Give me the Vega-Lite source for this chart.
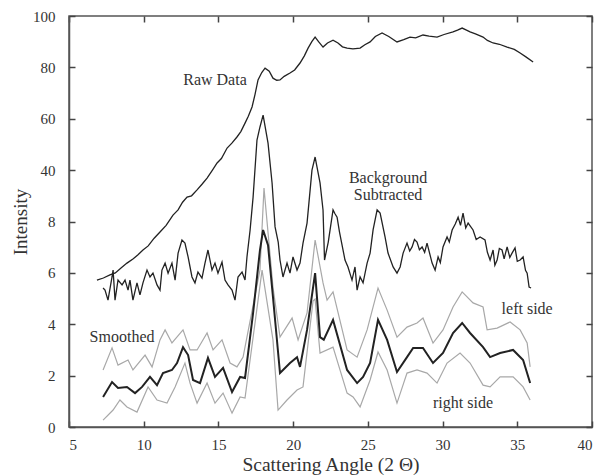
{
  "$schema": "https://vega.github.io/schema/vega-lite/v6.json",
  "width": 523,
  "height": 411,
  "autosize": "none",
  "padding": {"left": 69, "top": 16, "right": 11, "bottom": 49},
  "background": "white",
  "config": {
    "view": {"stroke": "#555", "strokeWidth": 1.5},
    "font": "Liberation Serif",
    "axis": {
      "domainColor": "#555", "domainWidth": 1.5, "tickColor": "#444", "tickWidth": 1.5,
      "labelFont": "Liberation Serif", "labelFontSize": 15, "labelColor": "#333",
      "titleFont": "Liberation Serif", "titleFontWeight": "normal", "titleColor": "#333",
      "grid": false
    }
  },
  "datasets": {
    "curves": [
      {"series": "raw", "x": 6.87, "y": 5.72}, {"series": "raw", "x": 7.3, "y": 5.8}, {"series": "raw", "x": 7.74, "y": 5.92}, {"series": "raw", "x": 8.1, "y": 6.0}, {"series": "raw", "x": 8.5, "y": 6.2}, {"series": "raw", "x": 8.88, "y": 6.38}, {"series": "raw", "x": 9.3, "y": 6.55}, {"series": "raw", "x": 9.6, "y": 6.7}, {"series": "raw", "x": 9.95, "y": 6.89}, {"series": "raw", "x": 10.3, "y": 7.05}, {"series": "raw", "x": 10.7, "y": 7.35}, {"series": "raw", "x": 11.09, "y": 7.59}, {"series": "raw", "x": 11.5, "y": 7.85}, {"series": "raw", "x": 11.96, "y": 8.25}, {"series": "raw", "x": 12.3, "y": 8.45}, {"series": "raw", "x": 12.6, "y": 8.75}, {"series": "raw", "x": 12.9, "y": 8.95}, {"series": "raw", "x": 13.2, "y": 9.0}, {"series": "raw", "x": 13.57, "y": 9.23}, {"series": "raw", "x": 13.9, "y": 9.45}, {"series": "raw", "x": 14.24, "y": 9.69}, {"series": "raw", "x": 14.6, "y": 10.0}, {"series": "raw", "x": 14.91, "y": 10.28}, {"series": "raw", "x": 15.2, "y": 10.45}, {"series": "raw", "x": 15.58, "y": 10.86}, {"series": "raw", "x": 15.9, "y": 11.05}, {"series": "raw", "x": 16.24, "y": 11.29}, {"series": "raw", "x": 16.5, "y": 11.5}, {"series": "raw", "x": 16.78, "y": 11.83}, {"series": "raw", "x": 17.0, "y": 12.1}, {"series": "raw", "x": 17.25, "y": 12.46}, {"series": "raw", "x": 17.45, "y": 12.95}, {"series": "raw", "x": 17.65, "y": 13.51}, {"series": "raw", "x": 17.9, "y": 13.8}, {"series": "raw", "x": 18.12, "y": 13.97}, {"series": "raw", "x": 18.4, "y": 13.85}, {"series": "raw", "x": 18.65, "y": 13.58}, {"series": "raw", "x": 18.9, "y": 13.5}, {"series": "raw", "x": 19.12, "y": 13.51}, {"series": "raw", "x": 19.4, "y": 13.65}, {"series": "raw", "x": 19.79, "y": 13.78}, {"series": "raw", "x": 20.1, "y": 13.9}, {"series": "raw", "x": 20.46, "y": 14.17}, {"series": "raw", "x": 20.75, "y": 14.45}, {"series": "raw", "x": 21.0, "y": 14.75}, {"series": "raw", "x": 21.25, "y": 15.0}, {"series": "raw", "x": 21.47, "y": 15.18}, {"series": "raw", "x": 21.7, "y": 15.0}, {"series": "raw", "x": 22.0, "y": 14.79}, {"series": "raw", "x": 22.3, "y": 14.95}, {"series": "raw", "x": 22.67, "y": 15.06}, {"series": "raw", "x": 23.0, "y": 14.95}, {"series": "raw", "x": 23.3, "y": 14.8}, {"series": "raw", "x": 23.61, "y": 14.75}, {"series": "raw", "x": 24.0, "y": 14.72}, {"series": "raw", "x": 24.48, "y": 14.75}, {"series": "raw", "x": 24.8, "y": 14.88}, {"series": "raw", "x": 25.15, "y": 14.99}, {"series": "raw", "x": 25.5, "y": 15.2}, {"series": "raw", "x": 25.95, "y": 15.34}, {"series": "raw", "x": 26.4, "y": 15.2}, {"series": "raw", "x": 26.95, "y": 14.99}, {"series": "raw", "x": 27.4, "y": 15.08}, {"series": "raw", "x": 27.82, "y": 15.18}, {"series": "raw", "x": 28.2, "y": 15.15}, {"series": "raw", "x": 28.69, "y": 15.26}, {"series": "raw", "x": 29.1, "y": 15.22}, {"series": "raw", "x": 29.63, "y": 15.18}, {"series": "raw", "x": 30.1, "y": 15.28}, {"series": "raw", "x": 30.7, "y": 15.38}, {"series": "raw", "x": 31.0, "y": 15.45}, {"series": "raw", "x": 31.31, "y": 15.53}, {"series": "raw", "x": 31.6, "y": 15.45}, {"series": "raw", "x": 31.84, "y": 15.38}, {"series": "raw", "x": 32.2, "y": 15.3}, {"series": "raw", "x": 32.71, "y": 15.18}, {"series": "raw", "x": 33.0, "y": 15.05}, {"series": "raw", "x": 33.38, "y": 14.95}, {"series": "raw", "x": 33.8, "y": 14.9}, {"series": "raw", "x": 34.32, "y": 14.79}, {"series": "raw", "x": 34.8, "y": 14.7}, {"series": "raw", "x": 35.19, "y": 14.56}, {"series": "raw", "x": 35.6, "y": 14.4}, {"series": "raw", "x": 36.06, "y": 14.21},

      {"series": "bs", "x": 7.28, "y": 5.41}, {"series": "bs", "x": 7.41, "y": 5.33}, {"series": "bs", "x": 7.61, "y": 4.94}, {"series": "bs", "x": 7.88, "y": 5.84}, {"series": "bs", "x": 7.95, "y": 6.11}, {"series": "bs", "x": 8.08, "y": 4.94}, {"series": "bs", "x": 8.28, "y": 5.72}, {"series": "bs", "x": 8.55, "y": 5.53}, {"series": "bs", "x": 8.75, "y": 5.72}, {"series": "bs", "x": 8.95, "y": 5.33}, {"series": "bs", "x": 9.08, "y": 5.72}, {"series": "bs", "x": 9.28, "y": 4.94}, {"series": "bs", "x": 9.55, "y": 5.61}, {"series": "bs", "x": 9.75, "y": 5.14}, {"series": "bs", "x": 9.95, "y": 5.61}, {"series": "bs", "x": 10.22, "y": 6.11}, {"series": "bs", "x": 10.42, "y": 5.84}, {"series": "bs", "x": 10.62, "y": 5.99}, {"series": "bs", "x": 10.89, "y": 5.53}, {"series": "bs", "x": 11.09, "y": 5.33}, {"series": "bs", "x": 11.22, "y": 6.11}, {"series": "bs", "x": 11.43, "y": 6.38}, {"series": "bs", "x": 11.63, "y": 5.99}, {"series": "bs", "x": 11.89, "y": 6.38}, {"series": "bs", "x": 12.1, "y": 5.72}, {"series": "bs", "x": 12.3, "y": 6.77}, {"series": "bs", "x": 12.56, "y": 7.28}, {"series": "bs", "x": 12.76, "y": 7.16}, {"series": "bs", "x": 12.97, "y": 6.62}, {"series": "bs", "x": 13.23, "y": 5.84}, {"series": "bs", "x": 13.43, "y": 5.61}, {"series": "bs", "x": 13.63, "y": 6.03}, {"series": "bs", "x": 13.9, "y": 5.8}, {"series": "bs", "x": 14.1, "y": 6.38}, {"series": "bs", "x": 14.3, "y": 6.89}, {"series": "bs", "x": 14.57, "y": 6.11}, {"series": "bs", "x": 14.77, "y": 6.38}, {"series": "bs", "x": 14.97, "y": 5.99}, {"series": "bs", "x": 15.24, "y": 6.42}, {"series": "bs", "x": 15.44, "y": 5.72}, {"series": "bs", "x": 15.64, "y": 5.53}, {"series": "bs", "x": 15.91, "y": 5.33}, {"series": "bs", "x": 16.11, "y": 4.94}, {"series": "bs", "x": 16.31, "y": 5.84}, {"series": "bs", "x": 16.58, "y": 6.03}, {"series": "bs", "x": 16.78, "y": 5.72}, {"series": "bs", "x": 16.91, "y": 6.62}, {"series": "bs", "x": 17.12, "y": 7.67}, {"series": "bs", "x": 17.32, "y": 8.95}, {"series": "bs", "x": 17.58, "y": 11.17}, {"series": "bs", "x": 17.78, "y": 11.68}, {"series": "bs", "x": 17.99, "y": 12.14}, {"series": "bs", "x": 18.32, "y": 11.05}, {"series": "bs", "x": 18.59, "y": 9.5}, {"series": "bs", "x": 18.79, "y": 7.79}, {"series": "bs", "x": 19.0, "y": 7.2}, {"series": "bs", "x": 19.12, "y": 6.5}, {"series": "bs", "x": 19.32, "y": 5.84}, {"series": "bs", "x": 19.59, "y": 6.38}, {"series": "bs", "x": 19.79, "y": 5.99}, {"series": "bs", "x": 19.99, "y": 6.62}, {"series": "bs", "x": 20.26, "y": 6.11}, {"series": "bs", "x": 20.46, "y": 6.38}, {"series": "bs", "x": 20.66, "y": 7.16}, {"series": "bs", "x": 20.93, "y": 7.94}, {"series": "bs", "x": 21.26, "y": 10.0}, {"series": "bs", "x": 21.47, "y": 10.51}, {"series": "bs", "x": 21.8, "y": 9.5}, {"series": "bs", "x": 22.0, "y": 8.45}, {"series": "bs", "x": 22.1, "y": 6.5}, {"series": "bs", "x": 22.35, "y": 7.2}, {"series": "bs", "x": 22.67, "y": 8.45}, {"series": "bs", "x": 22.8, "y": 8.3}, {"series": "bs", "x": 22.94, "y": 8.17}, {"series": "bs", "x": 23.1, "y": 7.6}, {"series": "bs", "x": 23.47, "y": 6.5}, {"series": "bs", "x": 23.67, "y": 6.23}, {"series": "bs", "x": 23.94, "y": 5.72}, {"series": "bs", "x": 24.14, "y": 6.23}, {"series": "bs", "x": 24.28, "y": 5.33}, {"series": "bs", "x": 24.48, "y": 5.84}, {"series": "bs", "x": 24.68, "y": 5.61}, {"series": "bs", "x": 24.95, "y": 6.38}, {"series": "bs", "x": 25.15, "y": 6.77}, {"series": "bs", "x": 25.35, "y": 7.67}, {"series": "bs", "x": 25.62, "y": 8.45}, {"series": "bs", "x": 25.82, "y": 8.33}, {"series": "bs", "x": 26.15, "y": 7.4}, {"series": "bs", "x": 26.35, "y": 6.77}, {"series": "bs", "x": 26.69, "y": 6.23}, {"series": "bs", "x": 26.95, "y": 5.99}, {"series": "bs", "x": 27.16, "y": 6.23}, {"series": "bs", "x": 27.36, "y": 6.77}, {"series": "bs", "x": 27.62, "y": 7.16}, {"series": "bs", "x": 27.8, "y": 6.85}, {"series": "bs", "x": 27.96, "y": 7.01}, {"series": "bs", "x": 28.12, "y": 7.3}, {"series": "bs", "x": 28.29, "y": 7.2}, {"series": "bs", "x": 28.45, "y": 6.9}, {"series": "bs", "x": 28.63, "y": 7.01}, {"series": "bs", "x": 28.8, "y": 6.8}, {"series": "bs", "x": 28.96, "y": 7.16}, {"series": "bs", "x": 29.3, "y": 6.38}, {"series": "bs", "x": 29.5, "y": 6.11}, {"series": "bs", "x": 29.7, "y": 6.62}, {"series": "bs", "x": 29.85, "y": 6.4}, {"series": "bs", "x": 30.03, "y": 7.01}, {"series": "bs", "x": 30.3, "y": 7.4}, {"series": "bs", "x": 30.45, "y": 7.2}, {"series": "bs", "x": 30.64, "y": 7.67}, {"series": "bs", "x": 30.85, "y": 7.9}, {"series": "bs", "x": 31.04, "y": 8.17}, {"series": "bs", "x": 31.2, "y": 7.85}, {"series": "bs", "x": 31.37, "y": 8.33}, {"series": "bs", "x": 31.55, "y": 7.75}, {"series": "bs", "x": 31.71, "y": 7.94}, {"series": "bs", "x": 32.04, "y": 7.67}, {"series": "bs", "x": 32.25, "y": 7.3}, {"series": "bs", "x": 32.51, "y": 7.4}, {"series": "bs", "x": 32.84, "y": 7.28}, {"series": "bs", "x": 33.0, "y": 6.8}, {"series": "bs", "x": 33.18, "y": 6.5}, {"series": "bs", "x": 33.38, "y": 6.89}, {"series": "bs", "x": 33.5, "y": 6.3}, {"series": "bs", "x": 33.65, "y": 6.5}, {"series": "bs", "x": 33.8, "y": 6.95}, {"series": "bs", "x": 33.98, "y": 6.89}, {"series": "bs", "x": 34.12, "y": 6.55}, {"series": "bs", "x": 34.32, "y": 7.01}, {"series": "bs", "x": 34.5, "y": 6.6}, {"series": "bs", "x": 34.65, "y": 6.77}, {"series": "bs", "x": 34.85, "y": 6.97}, {"series": "bs", "x": 35.0, "y": 6.45}, {"series": "bs", "x": 35.19, "y": 6.5}, {"series": "bs", "x": 35.39, "y": 6.62}, {"series": "bs", "x": 35.55, "y": 6.1}, {"series": "bs", "x": 35.66, "y": 5.99}, {"series": "bs", "x": 35.79, "y": 5.45}, {"series": "bs", "x": 35.92, "y": 5.41},

      {"series": "smooth", "x": 7.28, "y": 1.17}, {"series": "smooth", "x": 7.88, "y": 1.75}, {"series": "smooth", "x": 8.28, "y": 1.52}, {"series": "smooth", "x": 8.88, "y": 1.56}, {"series": "smooth", "x": 9.42, "y": 1.32}, {"series": "smooth", "x": 9.89, "y": 1.56}, {"series": "smooth", "x": 10.42, "y": 1.95}, {"series": "smooth", "x": 10.89, "y": 1.63}, {"series": "smooth", "x": 11.29, "y": 2.1}, {"series": "smooth", "x": 11.89, "y": 2.22}, {"series": "smooth", "x": 12.23, "y": 2.49}, {"series": "smooth", "x": 12.63, "y": 3.11}, {"series": "smooth", "x": 12.97, "y": 2.8}, {"series": "smooth", "x": 13.3, "y": 1.83}, {"series": "smooth", "x": 13.77, "y": 1.71}, {"series": "smooth", "x": 14.3, "y": 2.69}, {"series": "smooth", "x": 14.77, "y": 1.95}, {"series": "smooth", "x": 15.31, "y": 2.3}, {"series": "smooth", "x": 15.91, "y": 1.36}, {"series": "smooth", "x": 16.45, "y": 1.95}, {"series": "smooth", "x": 16.78, "y": 1.91}, {"series": "smooth", "x": 17.32, "y": 4.44}, {"series": "smooth", "x": 17.78, "y": 6.89}, {"series": "smooth", "x": 17.99, "y": 7.67}, {"series": "smooth", "x": 18.32, "y": 7.08}, {"series": "smooth", "x": 18.65, "y": 5.06}, {"series": "smooth", "x": 19.12, "y": 2.1}, {"series": "smooth", "x": 19.79, "y": 2.49}, {"series": "smooth", "x": 20.26, "y": 2.72}, {"series": "smooth", "x": 20.46, "y": 2.34}, {"series": "smooth", "x": 20.93, "y": 3.78}, {"series": "smooth", "x": 21.47, "y": 5.99}, {"series": "smooth", "x": 21.8, "y": 3.5}, {"series": "smooth", "x": 22.05, "y": 3.4}, {"series": "smooth", "x": 22.67, "y": 4.17}, {"series": "smooth", "x": 23.61, "y": 2.22}, {"series": "smooth", "x": 24.28, "y": 1.71}, {"series": "smooth", "x": 24.68, "y": 1.95}, {"series": "smooth", "x": 25.15, "y": 2.49}, {"series": "smooth", "x": 25.68, "y": 4.17}, {"series": "smooth", "x": 26.29, "y": 3.39}, {"series": "smooth", "x": 26.95, "y": 2.14}, {"series": "smooth", "x": 27.62, "y": 2.72}, {"series": "smooth", "x": 28.03, "y": 3.08}, {"series": "smooth", "x": 28.69, "y": 3.08}, {"series": "smooth", "x": 29.36, "y": 2.49}, {"series": "smooth", "x": 30.03, "y": 2.88}, {"series": "smooth", "x": 30.7, "y": 3.66}, {"series": "smooth", "x": 31.31, "y": 4.05}, {"series": "smooth", "x": 31.84, "y": 3.66}, {"series": "smooth", "x": 32.71, "y": 3.11}, {"series": "smooth", "x": 33.18, "y": 2.72}, {"series": "smooth", "x": 33.85, "y": 2.88}, {"series": "smooth", "x": 34.72, "y": 3.0}, {"series": "smooth", "x": 35.39, "y": 2.61}, {"series": "smooth", "x": 35.86, "y": 1.71},

      {"series": "left", "x": 7.28, "y": 2.22}, {"series": "left", "x": 7.88, "y": 3.08}, {"series": "left", "x": 8.28, "y": 2.41}, {"series": "left", "x": 8.95, "y": 2.61}, {"series": "left", "x": 9.28, "y": 2.22}, {"series": "left", "x": 10.09, "y": 2.8}, {"series": "left", "x": 10.56, "y": 2.34}, {"series": "left", "x": 11.09, "y": 3.39}, {"series": "left", "x": 11.43, "y": 3.78}, {"series": "left", "x": 11.89, "y": 3.27}, {"series": "left", "x": 12.63, "y": 3.78}, {"series": "left", "x": 13.1, "y": 3.0}, {"series": "left", "x": 13.57, "y": 3.0}, {"series": "left", "x": 14.24, "y": 3.66}, {"series": "left", "x": 14.64, "y": 3.0}, {"series": "left", "x": 15.24, "y": 3.39}, {"series": "left", "x": 15.78, "y": 2.49}, {"series": "left", "x": 16.24, "y": 2.34}, {"series": "left", "x": 16.65, "y": 2.72}, {"series": "left", "x": 17.78, "y": 6.11}, {"series": "left", "x": 18.05, "y": 9.3}, {"series": "left", "x": 18.65, "y": 5.45}, {"series": "left", "x": 19.12, "y": 3.5}, {"series": "left", "x": 19.93, "y": 4.24}, {"series": "left", "x": 20.33, "y": 3.39}, {"series": "left", "x": 20.93, "y": 4.44}, {"series": "left", "x": 21.47, "y": 7.28}, {"series": "left", "x": 22.0, "y": 5.61}, {"series": "left", "x": 22.27, "y": 4.94}, {"series": "left", "x": 22.67, "y": 5.26}, {"series": "left", "x": 23.61, "y": 3.0}, {"series": "left", "x": 24.28, "y": 2.72}, {"series": "left", "x": 24.95, "y": 3.78}, {"series": "left", "x": 25.68, "y": 5.41}, {"series": "left", "x": 26.29, "y": 4.55}, {"series": "left", "x": 26.95, "y": 3.5}, {"series": "left", "x": 27.62, "y": 3.89}, {"series": "left", "x": 28.29, "y": 4.05}, {"series": "left", "x": 28.69, "y": 4.24}, {"series": "left", "x": 29.36, "y": 3.27}, {"series": "left", "x": 30.03, "y": 3.78}, {"series": "left", "x": 30.7, "y": 4.67}, {"series": "left", "x": 31.31, "y": 5.26}, {"series": "left", "x": 32.04, "y": 4.83}, {"series": "left", "x": 32.71, "y": 4.67}, {"series": "left", "x": 32.98, "y": 3.78}, {"series": "left", "x": 33.65, "y": 3.85}, {"series": "left", "x": 34.52, "y": 4.09}, {"series": "left", "x": 35.19, "y": 3.78}, {"series": "left", "x": 35.66, "y": 3.27}, {"series": "left", "x": 35.86, "y": 2.34},

      {"series": "right", "x": 7.28, "y": 0.27}, {"series": "right", "x": 7.95, "y": 0.66}, {"series": "right", "x": 8.41, "y": 1.05}, {"series": "right", "x": 8.88, "y": 0.78}, {"series": "right", "x": 9.55, "y": 0.58}, {"series": "right", "x": 10.29, "y": 1.56}, {"series": "right", "x": 10.89, "y": 1.05}, {"series": "right", "x": 11.56, "y": 0.93}, {"series": "right", "x": 12.1, "y": 1.56}, {"series": "right", "x": 12.76, "y": 2.49}, {"series": "right", "x": 13.1, "y": 1.71}, {"series": "right", "x": 13.57, "y": 0.93}, {"series": "right", "x": 14.24, "y": 1.71}, {"series": "right", "x": 14.77, "y": 0.93}, {"series": "right", "x": 15.31, "y": 1.32}, {"series": "right", "x": 15.91, "y": 0.54}, {"series": "right", "x": 16.45, "y": 1.17}, {"series": "right", "x": 16.78, "y": 1.13}, {"series": "right", "x": 17.92, "y": 6.11}, {"series": "right", "x": 18.65, "y": 3.39}, {"series": "right", "x": 18.99, "y": 0.66}, {"series": "right", "x": 19.59, "y": 1.05}, {"series": "right", "x": 20.26, "y": 1.44}, {"series": "right", "x": 20.66, "y": 1.56}, {"series": "right", "x": 21.33, "y": 4.9}, {"series": "right", "x": 21.47, "y": 4.98}, {"series": "right", "x": 21.8, "y": 2.88}, {"series": "right", "x": 22.67, "y": 3.11}, {"series": "right", "x": 23.61, "y": 1.32}, {"series": "right", "x": 24.01, "y": 1.17}, {"series": "right", "x": 24.48, "y": 0.78}, {"series": "right", "x": 25.15, "y": 1.83}, {"series": "right", "x": 25.68, "y": 2.92}, {"series": "right", "x": 26.29, "y": 2.22}, {"series": "right", "x": 26.95, "y": 0.93}, {"series": "right", "x": 27.62, "y": 2.1}, {"series": "right", "x": 28.29, "y": 2.22}, {"series": "right", "x": 28.96, "y": 2.1}, {"series": "right", "x": 29.63, "y": 1.71}, {"series": "right", "x": 30.3, "y": 2.49}, {"series": "right", "x": 31.17, "y": 2.88}, {"series": "right", "x": 31.84, "y": 2.49}, {"series": "right", "x": 32.71, "y": 1.63}, {"series": "right", "x": 33.18, "y": 1.56}, {"series": "right", "x": 33.85, "y": 1.95}, {"series": "right", "x": 34.72, "y": 1.95}, {"series": "right", "x": 35.39, "y": 1.56}, {"series": "right", "x": 35.86, "y": 1.05}
    ],
    "labels": [
      {"text": "Raw Data", "x": 14.77, "y": 13.51},
      {"text": "Background", "x": 26.35, "y": 9.69},
      {"text": "Subtracted", "x": 26.35, "y": 9.03},
      {"text": "Smoothed", "x": 8.55, "y": 3.5},
      {"text": "left side", "x": 35.66, "y": 4.59},
      {"text": "right side", "x": 31.37, "y": 0.93}
    ]
  },
  "resolve": {"axis": {"x": "independent", "y": "independent"}},
  "layer": [
    {
      "data": {"name": "curves"},
      "transform": [{"filter": "datum.series === 'left' || datum.series === 'right'"}],
      "mark": {"type": "line", "stroke": "#a8a8a8", "strokeWidth": 1.2},
      "encoding": {
        "detail": {"field": "series"},
        "x": {"field": "x", "type": "quantitative", "scale": {"domain": [5, 40], "nice": false, "zero": false},
              "axis": {"orient": "bottom", "values": [5, 10, 15, 20, 25, 30, 35, 40], "ticks": true, "tickSize": 0, "labelPadding": 10, "title": "Scattering Angle (2 Θ)", "titleFontSize": 19.5, "titlePadding": 3}},
        "y": {"field": "y", "type": "quantitative", "scale": {"domain": [0, 16], "nice": false},
              "axis": {"orient": "left", "values": [0, 2, 4, 6, 8, 10, 12, 14, 16], "ticks": true, "tickSize": 0, "labelPadding": 14,
                       "labelExpr": "datum.value <= 8 ? datum.label : format((datum.value - 8) * 10 + 20, 'd')", "title": "Intensity", "titleFontSize": 19, "titlePadding": 2}}
      }
    },
    {
      "data": {"name": "curves"},
      "transform": [{"filter": "datum.series === 'raw' || datum.series === 'bs'"}],
      "mark": {"type": "line", "stroke": "#222", "strokeWidth": 1.3},
      "encoding": {
        "detail": {"field": "series"},
        "x": {"field": "x", "type": "quantitative",
              "axis": {"orient": "top", "offset": -6, "domain": false, "values": [5, 10, 15, 20, 25, 30, 35, 40], "ticks": true, "tickSize": 6, "labels": false, "title": null}},
        "y": {"field": "y", "type": "quantitative",
              "axis": {"orient": "right", "offset": -6, "domain": false, "values": [0, 2, 4, 6, 8, 10, 12, 14, 16], "ticks": true, "tickSize": 6, "labels": false, "title": null}}
      }
    },
    {
      "data": {"name": "curves"},
      "transform": [{"filter": "datum.series === 'smooth'"}],
      "mark": {"type": "line", "stroke": "#222", "strokeWidth": 2},
      "encoding": {
        "x": {"field": "x", "type": "quantitative",
              "axis": {"orient": "bottom", "offset": -6, "domain": false, "values": [5, 10, 15, 20, 25, 30, 35, 40], "ticks": true, "tickSize": 6, "labels": false, "title": null}},
        "y": {"field": "y", "type": "quantitative",
              "axis": {"orient": "left", "offset": -6, "domain": false, "values": [0, 2, 4, 6, 8, 10, 12, 14, 16], "ticks": true, "tickSize": 6, "labels": false, "title": null}}
      }
    },
    {
      "data": {"name": "labels"},
      "mark": {"type": "text", "font": "Liberation Serif", "fontSize": 16, "color": "#333", "align": "center", "baseline": "middle"},
      "encoding": {
        "x": {"field": "x", "type": "quantitative", "axis": null},
        "y": {"field": "y", "type": "quantitative", "axis": null},
        "text": {"field": "text"}
      }
    }
  ]
}
